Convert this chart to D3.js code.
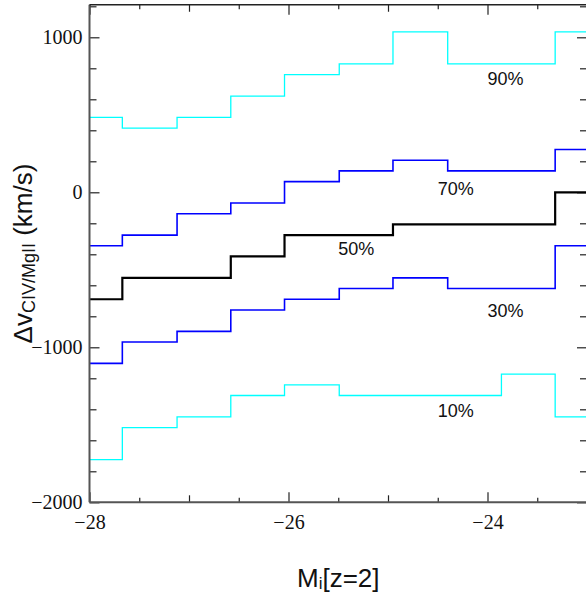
<!DOCTYPE html>
<html>
<head>
<meta charset="utf-8">
<script src="https://cdn.jsdelivr.net/npm/d3@7"></script>
<style>
  html, body { margin: 0; padding: 0; background: #fff; }
  svg { display: block; }
</style>
</head>
<body>
<svg id="chart" width="586" height="593"></svg>
<script>
// Absolute magnitude bins (edges), M_i[z=2]
const binEdges = [-28.21, -27.67, -27.12, -26.58, -26.04, -25.49, -24.95, -24.40, -23.86, -23.32, -22.77];

// Percentiles of the CIV - MgII velocity shift in each bin (km/s)
const p10 = [-1725, -1518, -1449, -1311, -1242, -1311, -1311, -1311, -1173, -1449];
const p30 = [-1104, -966, -897, -759, -690, -621, -552, -621, -621, -345];
const p50 = [-690, -552, -552, -414, -276, -276, -207, -207, -207, 0];
const p70 = [-345, -276, -138, -69, 69, 138, 207, 138, 138, 276];
const p90 = [483, 414, 483, 621, 759, 828, 1035, 828, 828, 1035];

// Curve labels and where they sit (data units: magnitude, km/s)
const curveNames = ["10%", "30%", "50%", "70%", "90%"];
const labelMag = [-24.32, -23.82, -25.32, -24.32, -23.82];
const labelVel = [-1450, -805, -405, -17, 692];

// Axis ticks
const xMajorTicks = [-28, -26, -24];
const yMajorTicks = [-2000, -1000, 0, 1000];

const svg = d3.select("#chart");
const W = 586, H = 593;
svg.append("rect").attr("width", W).attr("height", H).attr("fill", "#fff");

const x = d3.scaleLinear().domain([-28, -23]).range([89.5, 587]);
const y = d3.scaleLinear().domain([-2000, 1210]).range([502.3, 4.75]);

const [x0, x1] = x.range();
const [yb, yt] = y.range();

svg.append("clipPath").attr("id", "plot-clip")
  .append("rect").attr("x", x0).attr("y", yt).attr("width", x1 - x0).attr("height", yb - yt);

// Minor/intermediate tick values
const xHalfTicks = d3.range(-28, -22.9, 0.5).filter(v => !Number.isInteger(v));
const xOddTicks = d3.range(-27, -22.9, 2);
const yMinorTicks = d3.range(-2000, 1201, 200).filter(v => v % 1000 !== 0);

const tickFont = "'Liberation Serif', 'Times New Roman', serif";
const intFmt = d3.format("d");

function styleAxis(g) {
  g.select(".domain").remove();
  g.selectAll(".tick line").attr("stroke", "#222").attr("stroke-width", 1.2);
  g.selectAll(".tick text").attr("font-family", tickFont).attr("font-size", 20).attr("fill", "#111");
}

// Left axis
svg.append("g").attr("transform", `translate(${x0},0)`)
  .call(d3.axisLeft(y).tickValues(yMajorTicks).tickFormat(intFmt).tickSize(-10).tickSizeOuter(0).tickPadding(7))
  .call(styleAxis);
svg.append("g").attr("transform", `translate(${x0},0)`)
  .call(d3.axisLeft(y).tickValues(yMinorTicks).tickSize(-7).tickFormat(""))
  .call(styleAxis);
// Right axis
svg.append("g").attr("transform", `translate(${x1},0)`)
  .call(d3.axisRight(y).tickValues(yMajorTicks).tickSize(-10).tickFormat(""))
  .call(styleAxis);
svg.append("g").attr("transform", `translate(${x1},0)`)
  .call(d3.axisRight(y).tickValues(yMinorTicks).tickSize(-7).tickFormat(""))
  .call(styleAxis);

// Bottom axis
svg.append("g").attr("transform", `translate(0,${yb})`)
  .call(d3.axisBottom(x).tickValues(xMajorTicks).tickFormat(intFmt).tickSize(-10).tickPadding(13))
  .call(styleAxis);
svg.append("g").attr("transform", `translate(0,${yb})`)
  .call(d3.axisBottom(x).tickValues(xOddTicks).tickSize(-7).tickFormat(""))
  .call(styleAxis);
svg.append("g").attr("transform", `translate(0,${yb})`)
  .call(d3.axisBottom(x).tickValues(xHalfTicks).tickSize(-4.5).tickFormat(""))
  .call(styleAxis);
// Top axis
svg.append("g").attr("transform", `translate(0,${yt})`)
  .call(d3.axisTop(x).tickValues(xMajorTicks).tickSize(-10).tickFormat(""))
  .call(styleAxis);
svg.append("g").attr("transform", `translate(0,${yt})`)
  .call(d3.axisTop(x).tickValues(xOddTicks).tickSize(-7).tickFormat(""))
  .call(styleAxis);
svg.append("g").attr("transform", `translate(0,${yt})`)
  .call(d3.axisTop(x).tickValues(xHalfTicks).tickSize(-4.5).tickFormat(""))
  .call(styleAxis);

// Step curves
const series = [
  { values: p10, color: "#00ffff", width: 1.3 },
  { values: p30, color: "#0000ff", width: 1.6 },
  { values: p50, color: "#000000", width: 2.2 },
  { values: p70, color: "#0000ff", width: 1.6 },
  { values: p90, color: "#00ffff", width: 1.3 }
];
const line = d3.line().x(d => x(d[0])).y(d => y(d[1])).curve(d3.curveStepAfter);
const plot = svg.append("g").attr("clip-path", "url(#plot-clip)");
series.forEach(s => {
  const pts = s.values.map((v, i) => [binEdges[i], v]);
  pts.push([binEdges[binEdges.length - 1], s.values[s.values.length - 1]]);
  plot.append("path").datum(pts)
    .attr("d", line)
    .attr("fill", "none")
    .attr("stroke", s.color)
    .attr("stroke-width", s.width)
    .attr("stroke-linejoin", "miter");
});

// Frame
svg.append("line").attr("x1", x0).attr("x2", x0).attr("y1", yt).attr("y2", yb)
  .attr("stroke", "#555").attr("stroke-width", 2);
svg.append("line").attr("x1", x0).attr("x2", x1).attr("y1", yb).attr("y2", yb)
  .attr("stroke", "#555").attr("stroke-width", 2);
svg.append("line").attr("x1", x0).attr("x2", x1).attr("y1", yt).attr("y2", yt)
  .attr("stroke", "#222").attr("stroke-width", 1.5);
svg.append("line").attr("x1", x1).attr("x2", x1).attr("y1", yt).attr("y2", yb)
  .attr("stroke", "#222").attr("stroke-width", 1.5);

// Curve labels
const sans = "'Liberation Sans', Arial, Helvetica, sans-serif";
svg.append("g").selectAll("text").data(curveNames).join("text")
  .attr("x", (d, i) => x(labelMag[i]))
  .attr("y", (d, i) => y(labelVel[i]))
  .attr("text-anchor", "middle")
  .attr("font-family", sans)
  .attr("font-size", 18)
  .attr("fill", "#111")
  .text(d => d);

// Axis titles
const xt = svg.append("text")
  .attr("x", (x0 + x1) / 2).attr("y", 587)
  .attr("text-anchor", "middle")
  .attr("font-family", sans).attr("font-size", 26).attr("fill", "#111");
xt.append("tspan").text("M");
xt.append("tspan").attr("font-size", 17).attr("dy", 2).text("i");
xt.append("tspan").attr("dy", -2).text("[z=2]");

const yTitle = svg.append("text")
  .attr("transform", `translate(32,${(yt + yb) / 2}) rotate(-90)`)
  .attr("text-anchor", "middle")
  .attr("font-family", sans).attr("font-size", 26).attr("fill", "#111");
yTitle.append("tspan").text("\u0394v");
yTitle.append("tspan").attr("font-size", 18).attr("dy", 3).text("CIV/MgII");
yTitle.append("tspan").attr("dy", -3).text(" (km/s)");
</script>
</body>
</html>
